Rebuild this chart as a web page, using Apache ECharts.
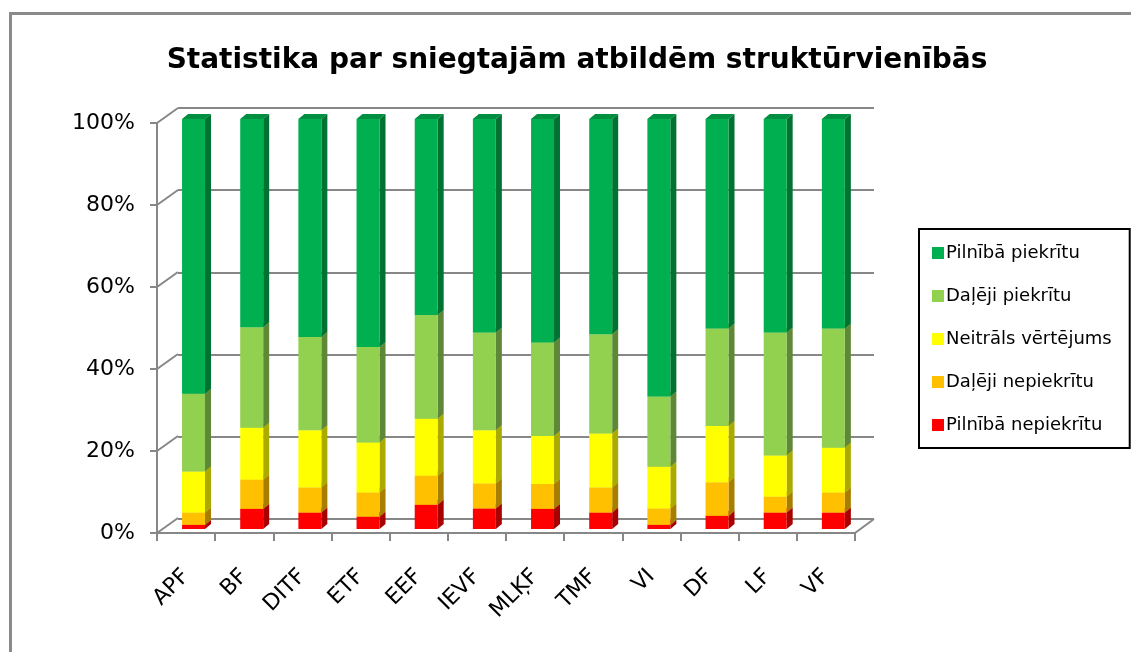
<!DOCTYPE html>
<html>
<head>
<meta charset="utf-8">
<script src="https://cdn.jsdelivr.net/npm/echarts@6/dist/echarts.min.js"></script>
<style>
html,body{margin:0;padding:0;background:#fff;width:1131px;height:652px;overflow:hidden;}
#frame{position:absolute;left:9px;top:12px;width:2000px;height:2000px;border:3px solid #8a8a8a;box-sizing:border-box;}
#chart{position:absolute;left:0;top:0;width:1131px;height:652px;}
</style>
</head>
<body>
<div id="frame"></div>
<div id="chart"></div>
<script>
const titleText = 'Statistika par sniegtajām atbildēm struktūrvienībās';
const categories = ['APF','BF','DITF','ETF','EEF','IEVF','MLĶF','TMF','VI','DF','LF','VF'];
const yTicks = [0,20,40,60,80,100];

// stacked from bottom to top (percent)
const pilnibaNepiekritu = [1.0, 4.9, 4.0, 3.0, 5.9, 5.0, 4.9, 4.0, 1.0, 3.2, 4.0, 4.0];
const dalejiNepiekritu  = [3.0, 7.1, 6.1, 5.9, 7.1, 6.1, 6.1, 6.1, 4.0, 8.2, 3.9, 4.9];
const neitralsVertejums = [10.0, 12.7, 14.0, 12.2, 13.9, 13.0, 11.7, 13.2, 10.2, 13.7, 10.0, 10.9];
const dalejiPiekritu    = [19.0, 24.5, 22.7, 23.3, 25.3, 23.8, 22.8, 24.2, 17.1, 23.8, 30.0, 29.1];
const pilnibaPiekritu   = [67.0, 50.8, 53.2, 55.6, 47.8, 52.1, 54.5, 52.5, 67.7, 51.1, 52.1, 51.1];

const seriesDefs = [
  {name:'Pilnībā nepiekrītu', data:pilnibaNepiekritu, color:'#FF0000', side:'#A80000', top:'#D40000'},
  {name:'Daļēji nepiekrītu',  data:dalejiNepiekritu,  color:'#FFC000', side:'#A87E00', top:'#D9A300'},
  {name:'Neitrāls vērtējums', data:neitralsVertejums, color:'#FFFF00', side:'#AAAA00', top:'#D6D600'},
  {name:'Daļēji piekrītu',    data:dalejiPiekritu,    color:'#92D050', side:'#5E8737', top:'#7BB043'},
  {name:'Pilnībā piekrītu',   data:pilnibaPiekritu,   color:'#00B050', side:'#007333', top:'#008E40'}
];
const legendOrder = ['Pilnībā piekrītu','Daļēji piekrītu','Neitrāls vērtējums','Daļēji nepiekrītu','Pilnībā nepiekrītu'];

const FONT = 'DejaVu Sans';
const cum = categories.map(() => 0);
const barSeries = seriesDefs.map((sd, si) => {
  const rows = sd.data.map((v, i) => {
    const s = cum[i]; cum[i] += v;
    return [i, s, cum[i]];
  });
  return {
    name: sd.name,
    type: 'custom',
    xAxisIndex: 0, yAxisIndex: 0,
    itemStyle: {color: sd.color},
    encode: {x: 0, y: [1, 2]},
    z: 10 + si,
    data: rows,
    renderItem: function (params, api) {
      const i = api.value(0);
      const pb = api.coord([i, api.value(1)]);
      const pt = api.coord([i, api.value(2)]);
      const band = api.size([1, 0])[0];
      const w = band * 0.395;
      const cx = pb[0] + band * 0.128;
      const xl = cx - w / 2, xr = cx + w / 2;
      const yb = pb[1] - 4, yt = pt[1] - 4;
      const dx = 6, dy = -5;
      return {
        type: 'group',
        children: [
          {type:'polygon', shape:{points:[[xl,yt],[xr,yt],[xr+dx,yt+dy],[xl+dx,yt+dy]]}, style:{fill:sd.top}},
          {type:'polygon', shape:{points:[[xr,yb],[xr,yt],[xr+dx,yt+dy],[xr+dx,yb+dy]]}, style:{fill:sd.side}},
          {type:'rect', shape:{x:xl, y:yt, width:w, height:yb-yt}, style:{fill:sd.color}}
        ]
      };
    }
  };
});

// side-wall diagonals connecting the front axis to the back wall
const wallSeries = {
  name: 'walls',
  type: 'custom',
  xAxisIndex: 0, yAxisIndex: 0,
  silent: true,
  z: 2,
  data: yTicks.map(v => [0, v]),
  renderItem: function (params, api) {
    const v = api.value(1);
    const p = api.coord([0, v]);
    const band = api.size([1, 0])[0];
    const left = p[0] - band / 2;
    const lineStyle = {stroke:'#878787', lineWidth:2};
    const children = [
      {type:'line', shape:{x1:left, y1:p[1], x2:left+21, y2:p[1]-15}, style:lineStyle}
    ];
    if (v === 0) {
      const pr = api.coord([categories.length - 1, 0]);
      const right = pr[0] + band / 2;
      children.push({type:'line', shape:{x1:right, y1:p[1], x2:right+19, y2:p[1]-14}, style:lineStyle});
    }
    return {type:'group', children};
  }
};

const chart = echarts.init(document.getElementById('chart'), null, {renderer:'canvas'});
chart.setOption({
  backgroundColor: 'transparent',
  animation: false,
  title: {
    text: titleText,
    left: 577, top: 47, textAlign: 'center', padding: 0,
    textStyle: {fontFamily: FONT, fontSize: 28, fontWeight: 'bold', color: '#000'}
  },
  legend: {
    data: legendOrder,
    orient: 'vertical',
    left: 919, top: 229,
    padding: [15, 18, 14, 13],
    itemGap: 25,
    itemWidth: 12, itemHeight: 12,
    icon: 'rect',
    borderColor: '#000', borderWidth: 2,
    textStyle: {fontFamily: FONT, fontSize: 18, color: '#000', padding: [0,0,0,-3]},
    selectedMode: false
  },
  grid: [
    {left: 157, top: 123, width: 698, height: 410, containLabel: false},
    {left: 178, top: 108, width: 696, height: 411, containLabel: false}
  ],
  xAxis: [
    {
      type: 'category', gridIndex: 0, data: categories,
      axisLine: {show: true, lineStyle: {color: '#878787', width: 2}},
      axisTick: {show: true, length: 8, lineStyle: {color: '#878787', width: 2}},
      axisLabel: {rotate: 45, margin: 40, fontFamily: FONT, fontSize: 22, color: '#000', interval: 0},
      splitLine: {show: false}, z: 3
    },
    {
      type: 'category', gridIndex: 1, data: categories, show: false
    }
  ],
  yAxis: [
    {
      type: 'value', gridIndex: 0, min: 0, max: 100, interval: 20,
      axisLine: {show: true, lineStyle: {color: '#878787', width: 2}},
      axisTick: {show: true, length: 7, lineStyle: {color: '#878787', width: 2}},
      axisLabel: {margin: 22, fontFamily: FONT, fontSize: 22, color: '#000', formatter: v => v + '%'},
      splitLine: {show: false}, z: 3
    },
    {
      type: 'value', gridIndex: 1, min: 0, max: 100, interval: 20,
      axisLine: {show: false}, axisTick: {show: false}, axisLabel: {show: false},
      splitLine: {show: true, lineStyle: {color: '#878787', width: 2}}
    }
  ],
  series: [wallSeries].concat(barSeries)
});
</script>
</body>
</html>
